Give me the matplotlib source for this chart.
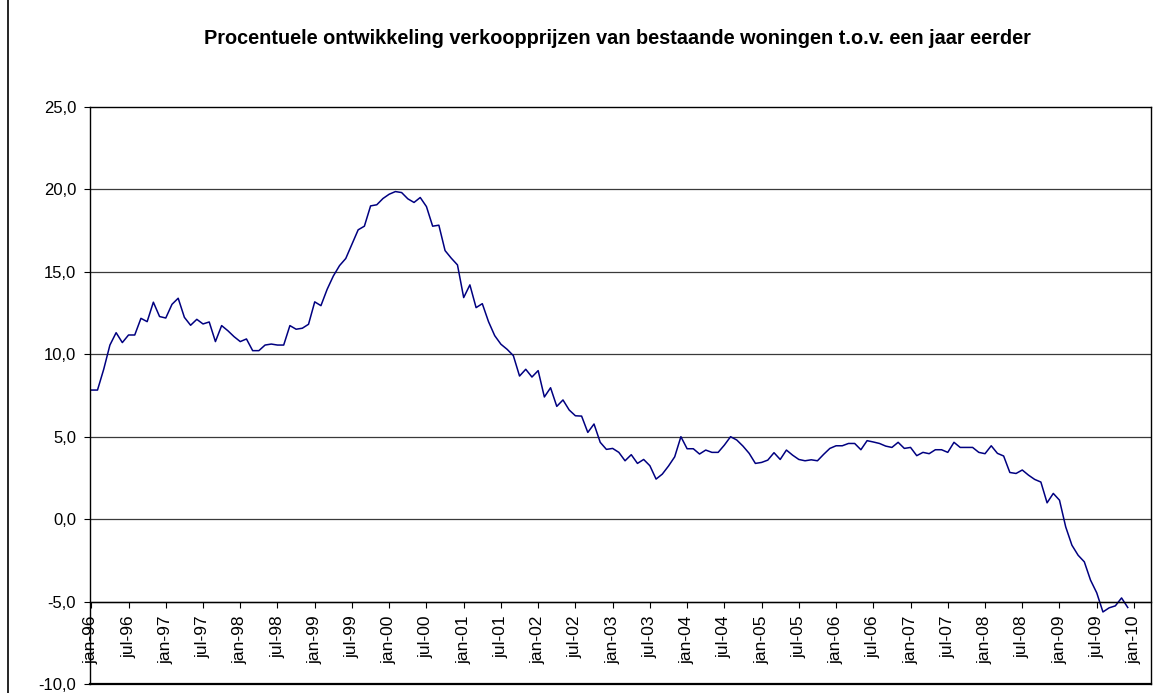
import numpy as np
import matplotlib
matplotlib.use("Agg")
import matplotlib.pyplot as plt

plt.rcParams['font.family'] = ['Liberation Sans', 'DejaVu Sans']

# monthly change (%) jan-96 .. dec-09
values = [
    7.83, 7.83, 9.09, 10.56, 11.31, 10.71, 11.17, 11.17, 12.18, 11.98, 13.16, 12.29,
    12.20, 13.03, 13.40, 12.24, 11.76, 12.12, 11.84, 11.96, 10.77, 11.74, 11.43, 11.07,
    10.77, 10.93, 10.22, 10.22, 10.56, 10.62, 10.56, 10.56, 11.74, 11.52, 11.58, 11.82,
    13.18, 12.95, 13.94, 14.75, 15.38, 15.81, 16.68, 17.55, 17.77, 19.00, 19.07, 19.45,
    19.71, 19.87, 19.81, 19.43, 19.21, 19.51, 18.96, 17.77, 17.83, 16.29, 15.83, 15.42,
    13.44, 14.21, 12.83, 13.07, 11.98, 11.13, 10.61, 10.30, 9.92, 8.68, 9.09, 8.62,
    9.01, 7.41, 7.97, 6.84, 7.23, 6.62, 6.27, 6.25, 5.26, 5.77, 4.66, 4.23,
    4.29, 4.05, 3.54, 3.91, 3.38, 3.62, 3.24, 2.43, 2.73, 3.22, 3.78, 5.00,
    4.27, 4.27, 3.95, 4.19, 4.05, 4.05, 4.49, 5.00, 4.80, 4.43, 3.99, 3.38,
    3.44, 3.58, 4.03, 3.62, 4.19, 3.88, 3.62, 3.54, 3.60, 3.54, 3.93, 4.29,
    4.45, 4.45, 4.59, 4.59, 4.21, 4.76, 4.68, 4.59, 4.43, 4.35, 4.66, 4.29,
    4.35, 3.85, 4.05, 3.97, 4.21, 4.21, 4.05, 4.66, 4.35, 4.35, 4.35, 4.05,
    3.97, 4.45, 3.99, 3.83, 2.83, 2.77, 2.98, 2.67, 2.41, 2.25, 0.99, 1.56,
    1.15, -0.47, -1.58, -2.19, -2.59, -3.70, -4.47, -5.63, -5.38, -5.26, -4.78, -5.36,
]

years = list(range(96, 100)) + list(range(0, 11))
tick_labels = []
for y in years:
    tick_labels.append('jan-%02d' % y)
    if y != 10:
        tick_labels.append('jul-%02d' % y)

y_ticks = [-10, -5, 0, 5, 10, 15, 20, 25]

title = 'Procentuele ontwikkeling verkoopprijzen van bestaande woningen t.o.v. een jaar eerder'

fig = plt.figure(figsize=(11.62, 6.93), dpi=100)
ax = fig.add_axes([0.0775, 0.013, 0.9128, 0.8326])

# category axis crosses at -5 (set before ticks, it resets them)
ax.spines['bottom'].set_position(('data', -5))

x = np.arange(len(values))
ax.plot(x, values, color='#000080', lw=1.1)

ax.set_ylim(-10, 25)
ax.set_xlim(-0.2, 170.7)
ax.set_yticks(y_ticks)
ax.set_yticklabels([('%.1f' % v).replace('.', ',') for v in y_ticks], fontsize=12)
ax.set_xticks(np.arange(0, 6 * len(tick_labels), 6))
ax.set_xticklabels(tick_labels, rotation=90, fontsize=12.5)

for v in y_ticks[1:-1]:
    ax.axhline(v, color='#3a3a3a', lw=0.9, zorder=0)

for s in ['left', 'top', 'right', 'bottom']:
    ax.spines[s].set_linewidth(1.0)
ax.plot([0, 1], [0, 0], transform=ax.transAxes, color='black', lw=1.6, clip_on=False)

ax.tick_params(axis='y', direction='out', length=4, pad=6)
ax.tick_params(axis='x', direction='out', length=4, pad=6)

fig.text(0.531, 0.945, title, ha='center', va='center', fontsize=14.3, fontweight='bold')

# outer chart border (left side)
fig.add_artist(plt.Line2D([0.0065, 0.0065], [0, 1], color='black', lw=1.2))

fig.savefig('out.png', dpi=100)
plt.close()
